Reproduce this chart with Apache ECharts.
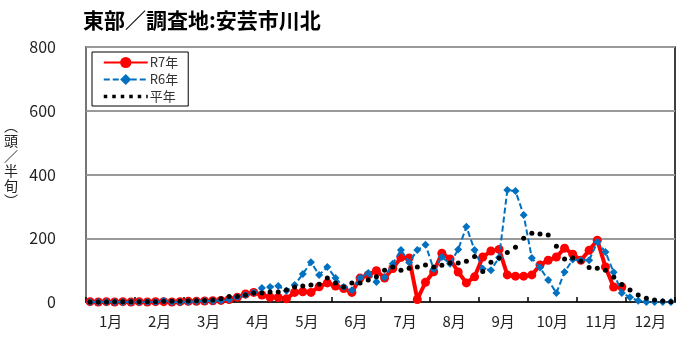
<!DOCTYPE html>
<html>
<head>
<meta charset="utf-8">
<script src="https://cdn.jsdelivr.net/npm/echarts@6/dist/echarts.min.js"></script>
<style>
  html, body { margin: 0; padding: 0; background: #fff; }
  #chart { width: 700px; height: 350px; }
</style>
</head>
<body>
<div id="chart"></div>
<script>
// 半旬 (5-day) periods: 6 per month, 72 per year
const periods = Array.from({ length: 72 }, (_, i) => String(i + 1));
const monthLabels = ['1月', '2月', '3月', '4月', '5月', '6月', '7月', '8月', '9月', '10月', '11月', '12月'];
const yTicks = [0, 200, 400, 600, 800];

// R7年 (counts per 半旬, data through November)
const r7 = [
  1, 0, 1, 0, 1, 0,
  1, 0, 1, 1, 0, 1,
  2, 2, 3, 4, 5, 8,
  15, 25, 30, 22, 15, 14,
  10, 30, 32, 30, 48, 60,
  50, 42, 30, 75, 85, 98,
  75, 105, 140, 138, 8, 62,
  95, 153, 135, 94, 60, 79,
  141, 160, 165, 85, 81, 81,
  85, 116, 131, 141, 169, 150,
  131, 162, 194, 110, 47, 47,
  null, null, null, null, null, null
];

// R6年
const r6 = [
  0, 0, 0, 0, 0, 0,
  0, 0, 0, 4, 0, 0,
  1, 2, 3, 3, 5, 8,
  16, 22, 30, 44, 47, 50,
  35, 53, 88, 125, 85, 110,
  75, 47, 37, 75, 91, 63,
  78, 120, 163, 124, 163, 180,
  103, 141, 120, 165, 236, 163,
  104, 100, 140, 351, 348, 273,
  138, 108, 69, 28, 94, 133,
  131, 131, 188, 157, 93, 28,
  15, 4, 0, 0, 0, 0
];

// 平年
const normal = [
  0, 0, 0, 1, 1, 1,
  1, 1, 1, 2, 2, 2,
  3, 4, 5, 6, 10, 17,
  17, 22, 28, 28, 31, 31,
  38, 47, 50, 53, 56, 75,
  60, 47, 60, 60, 69, 79,
  100, 110, 100, 106, 110, 116,
  110, 115, 122, 122, 128, 143,
  96, 125, 138, 155, 172, 200,
  216, 213, 210, 175, 135, 138,
  128, 108, 106, 100, 78, 55,
  38, 22, 12, 6, 3, 1
];

const FONT = '"Noto Sans CJK JP", "Noto Sans", sans-serif';

const chart = echarts.init(document.getElementById('chart'), null, { renderer: 'canvas' });

chart.setOption({
  animation: false,
  backgroundColor: '#fff',
  textStyle: { fontFamily: FONT },
  title: {
    text: '東部／調査地:安芸市川北',
    left: 78,
    top: 5,
    textStyle: { fontFamily: FONT, fontSize: 21, fontWeight: 'bold', color: '#000' }
  },
  legend: {
    orient: 'vertical',
    left: 92,
    top: 52,
    padding: [4, 10, 3, 10],
    itemGap: 4,
    itemWidth: 44,
    itemHeight: 14,
    borderColor: '#000',
    borderWidth: 1,
    backgroundColor: '#fff',
    textStyle: { fontFamily: FONT, fontSize: 13, color: '#333', padding: [0, 0, 0, -3] },
    data: [
      { name: 'R7年' },
      { name: 'R6年' },
      {
        name: '平年',
        itemStyle: { opacity: 0 },
        lineStyle: { width: 3.5, type: [3.5, 5], color: '#000', opacity: 1 }
      }
    ]
  },
  grid: {
    left: 86,
    right: 25,
    top: 47,
    bottom: 48,
    show: true,
    borderColor: '#000',
    borderWidth: 1.5
  },
  graphic: [{
    type: 'text',
    left: 4,
    top: 118,
    style: {
      text: '︵\n頭\n／\n半\n旬\n︶',
      fontFamily: FONT,
      fontSize: 14,
      lineHeight: 15,
      fill: '#222',
      align: 'center'
    }
  }],
  xAxis: [
    {
      type: 'category',
      data: periods,
      boundaryGap: true,
      show: false
    },
    {
      type: 'category',
      data: monthLabels,
      boundaryGap: true,
      position: 'bottom',
      axisLine: { show: true, lineStyle: { color: '#000', width: 1.5 } },
      axisTick: { show: true, inside: true, length: 5, lineStyle: { color: '#000', width: 1.5 } },
      axisLabel: { fontFamily: FONT, fontSize: 15, color: '#222', margin: 12 },
      splitLine: { show: false }
    }
  ],
  yAxis: {
    type: 'value',
    min: yTicks[0],
    max: yTicks[yTicks.length - 1],
    interval: 200,
    axisLine: { show: true, lineStyle: { color: '#888', width: 1.5 } },
    axisTick: { show: false },
    axisLabel: { fontFamily: FONT, fontSize: 16, color: '#222', margin: 30 },
    splitLine: { show: true, lineStyle: { color: '#999', width: 2 } }
  },
  series: [
    {
      name: 'R7年',
      type: 'line',
      xAxisIndex: 0,
      data: r7,
      symbol: 'circle',
      symbolSize: 9,
      showAllSymbol: true,
      connectNulls: false,
      lineStyle: { color: '#ff0000', width: 4 },
      itemStyle: { color: '#ff0000' },
      z: 2
    },
    {
      name: 'R6年',
      type: 'line',
      xAxisIndex: 0,
      data: r6,
      symbol: 'diamond',
      symbolSize: 8,
      showAllSymbol: true,
      lineStyle: { color: '#0070c0', width: 2, type: [6, 3] },
      itemStyle: { color: '#0070c0' },
      z: 3
    },
    {
      name: '平年',
      type: 'line',
      xAxisIndex: 0,
      data: normal,
      symbol: 'circle',
      symbolSize: 5,
      showAllSymbol: true,
      lineStyle: { width: 0, opacity: 0 },
      itemStyle: { color: '#000' },
      z: 4
    }
  ]
});
</script>
</body>
</html>
